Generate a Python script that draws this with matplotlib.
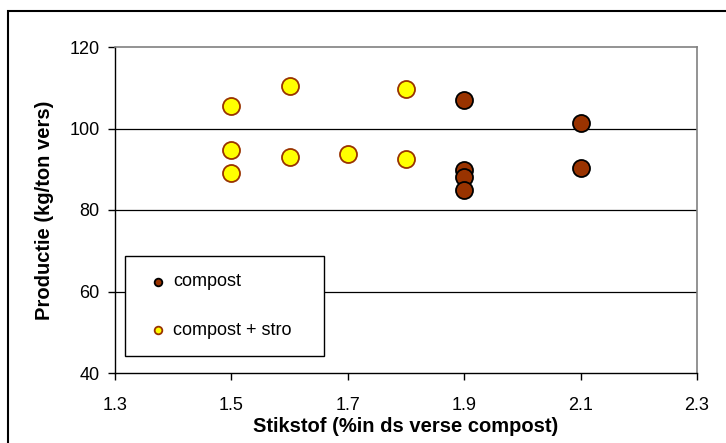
import matplotlib
matplotlib.use("Agg")
import matplotlib.pyplot as plt
from matplotlib.patches import Rectangle

plt.rcParams['font.family'] = ['Liberation Sans', 'DejaVu Sans']

# Data
compost_x = [1.9, 1.9, 1.9, 1.9, 2.1, 2.1]
compost_y = [107.0, 89.8, 88.1, 84.9, 101.3, 90.2]
stro_x = [1.5, 1.5, 1.5, 1.6, 1.6, 1.7, 1.8, 1.8]
stro_y = [105.6, 94.7, 89.0, 110.4, 92.9, 93.8, 109.6, 92.5]
x_ticks = [1.3, 1.5, 1.7, 1.9, 2.1, 2.3]
y_ticks = [40, 60, 80, 100, 120]

fig = plt.figure(figsize=(7.26, 4.43), dpi=100)
fig.patch.set_facecolor('white')
# outer chart border
fig.add_artist(Rectangle((8/726, -0.05), 1.0, 1 - 11/443 + 0.05, transform=fig.transFigure,
                         fill=False, edgecolor='black', linewidth=1.5))

ax = fig.add_axes([115/726, 1 - 373/443, (697 - 115)/726, (373 - 47)/443])
ax.set_xlim(1.3, 2.3)
ax.set_ylim(40, 120)
ax.set_xticks(x_ticks)
ax.set_xticklabels([f"{v:.1f}" for v in x_ticks])
ax.set_yticks(y_ticks)
ax.set_yticklabels([str(v) for v in y_ticks])

for v in [60, 80, 100]:
    ax.axhline(v, color='black', linewidth=0.9, zorder=1)

for side in ['left', 'bottom']:
    ax.spines[side].set_color('black')
    ax.spines[side].set_linewidth(1.0)
for side in ['top', 'right']:
    ax.spines[side].set_color('#808080')
    ax.spines[side].set_linewidth(1.2)

ax.tick_params(axis='both', direction='out', length=5, width=1, labelsize=13, colors='black')
ax.tick_params(axis='y', pad=6)
ax.tick_params(axis='x', pad=12)

ax.scatter(stro_x, stro_y, s=150, facecolor='#FFFF00', edgecolor='#993300', linewidth=1.3,
           zorder=3, label='compost + stro')
ax.scatter(compost_x, compost_y, s=150, facecolor='#993300', edgecolor='black', linewidth=1.3,
           zorder=3, label='compost')

ax.set_xlabel('Stikstof (%in ds verse compost)', fontsize=14.5, fontweight='bold')
ax.set_ylabel('Productie (kg/ton vers)', fontsize=14.5, fontweight='bold')
ax.xaxis.set_label_coords(0.5, (373 - 427) / 326)
ax.xaxis.label.set_va('center')
ax.yaxis.set_label_coords((45 - 115) / 582, 0.5)
ax.yaxis.label.set_va('center')

handles, labels = ax.get_legend_handles_labels()
leg = ax.legend(handles[::-1], labels[::-1], loc='lower left',
                bbox_to_anchor=((125 - 115)/582, (373 - 356)/326, (324 - 125)/582, (356 - 253)/326),
                mode='expand', borderaxespad=0, frameon=True, fancybox=False,
                edgecolor='black', framealpha=1, fontsize=13, markerscale=0.45,
                labelspacing=1.75, handletextpad=0.0, handlelength=1.7, borderpad=0.95)
leg.get_frame().set_linewidth(1.0)
leg.set_zorder(5)

fig.savefig('out.png', dpi=100)
